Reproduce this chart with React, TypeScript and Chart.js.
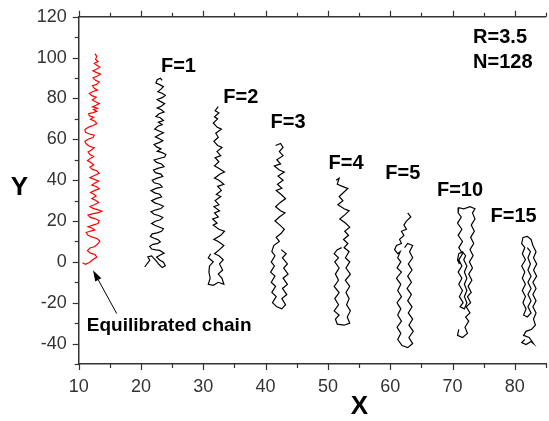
import React, { useEffect, useRef } from "react";
import { Chart, registerables } from "chart.js";

Chart.register(...registerables);

type Pt = [number, number];

// ---- data ----
const xTickValues = [10, 20, 30, 40, 50, 60, 70, 80];
const yTickValues = [-40, -20, 0, 20, 40, 60, 80, 100, 120];

const equilibratedChain: Pt[] = [
  [10.6, -0.4], [11.1, -1.2], [11.7, -0.3], [12.3, 1.2], [12.9, 2.4], [12.6, 3.6], [11.9, 4.3], [11.4, 5.5], [11.8, 6.8], [12.5, 7.4],
  [13.0, 8.6], [13.4, 10.2], [13.0, 11.3], [12.2, 12.1], [11.5, 13.0], [11.2, 14.4], [11.9, 15.1], [12.6, 15.6], [12.1, 16.6], [11.5, 17.2],
  [12.3, 18.0], [13.1, 18.8], [13.3, 20.1], [12.6, 21.2], [11.9, 21.8], [11.5, 22.9], [12.3, 23.6], [13.2, 24.1], [13.7, 24.9], [13.0, 25.6],
  [12.3, 26.2], [11.8, 27.1], [12.5, 28.0], [13.2, 29.1], [12.7, 30.2], [12.1, 31.0], [12.8, 32.3], [12.3, 33.4], [11.9, 34.0], [12.6, 35.0],
  [13.3, 35.8], [12.8, 36.9], [12.1, 37.6], [12.7, 38.7], [13.2, 39.6], [12.4, 40.5], [11.8, 41.2], [12.5, 42.3], [13.3, 43.4], [12.9, 44.6],
  [12.2, 45.3], [11.8, 46.4], [12.4, 47.5], [12.0, 48.5], [11.4, 49.6], [11.9, 50.8], [12.4, 51.6], [11.8, 52.6], [11.5, 53.8], [12.1, 54.9],
  [12.5, 55.9], [11.7, 56.6], [11.2, 57.8], [11.0, 59.1], [11.6, 60.2], [12.3, 60.9], [12.5, 62.0], [11.7, 62.6], [11.1, 63.4], [11.0, 64.8],
  [11.6, 66.0], [12.3, 66.8], [12.9, 67.7], [12.6, 68.9], [11.9, 69.8], [12.4, 70.8], [11.7, 71.5], [11.6, 72.6], [12.3, 73.1], [12.9, 73.7],
  [12.4, 74.6], [13.0, 75.2], [12.2, 75.9], [12.8, 76.7], [13.3, 77.5], [12.7, 78.4], [12.2, 79.3], [12.8, 80.6], [12.1, 81.4], [11.7, 82.5],
  [12.3, 83.4], [13.0, 84.1], [12.5, 85.0], [12.2, 86.2], [12.9, 87.0], [13.3, 88.1], [12.7, 88.9], [12.3, 90.1], [13.0, 91.0], [13.5, 91.9],
  [12.8, 92.8], [12.3, 93.6], [12.9, 94.4], [13.4, 95.4], [12.9, 96.3], [12.5, 97.2], [13.1, 98.1], [12.7, 99.2], [12.9, 100.6], [12.6, 102.0],
];

const chainF1: Pt[] = [
  [20.6, -2.5], [21.0, -0.8], [21.4, 0.8], [21.1, 2.4], [21.7, 2.9], [22.1, 1.6], [22.5, 0.2], [22.9, -1.3], [23.4, -2.8], [23.9, -1.9],
  [23.6, -0.2], [23.0, 0.9], [22.5, 2.3], [23.1, 3.4], [23.7, 4.3], [23.0, 5.6], [22.4, 5.9], [21.7, 6.3], [21.4, 7.6], [21.9, 8.6],
  [22.6, 8.9], [23.1, 9.8], [22.7, 10.9], [22.1, 11.6], [21.5, 12.4], [21.8, 13.7], [22.6, 14.2], [23.3, 15.0], [23.6, 16.2], [22.9, 17.1],
  [22.2, 17.9], [21.7, 18.8], [22.3, 19.9], [23.1, 20.6], [23.5, 21.8], [22.8, 22.7], [22.1, 23.3], [21.6, 24.6], [22.4, 25.5], [23.2, 26.1],
  [23.6, 27.3], [22.9, 28.2], [22.2, 28.9], [21.7, 30.0], [22.5, 31.1], [23.3, 31.8], [23.0, 33.1], [22.2, 33.8], [21.6, 34.9], [22.4, 36.0],
  [23.4, 36.7], [23.0, 38.0], [22.1, 38.7], [21.8, 40.0], [22.6, 41.0], [23.5, 41.8], [23.2, 43.0], [22.3, 43.7], [22.0, 45.0], [22.8, 45.9],
  [23.7, 46.6], [23.3, 47.9], [22.5, 48.7], [22.1, 49.9], [22.9, 50.6], [23.8, 51.3], [24.0, 52.6], [23.3, 53.6], [22.6, 54.2], [23.2, 55.3],
  [22.5, 56.3], [22.1, 57.5], [22.9, 58.4], [23.5, 59.3], [22.8, 60.5], [22.3, 61.2], [23.0, 62.4], [23.6, 63.2], [22.9, 64.1], [22.2, 65.0],
  [22.7, 66.4], [23.4, 67.2], [22.8, 68.4], [23.6, 69.2], [23.1, 70.6], [22.4, 71.2], [22.9, 72.5], [23.7, 73.4], [23.2, 74.6], [22.6, 75.4],
  [23.3, 76.3], [23.8, 77.5], [23.1, 78.6], [22.6, 79.5], [23.4, 80.4], [23.9, 81.6], [23.3, 82.7], [22.7, 83.3], [23.2, 84.6], [23.6, 85.8],
  [23.0, 86.8], [22.4, 87.6], [22.6, 89.2], [23.1, 89.9], [23.4, 88.9],
];

const chainF2: Pt[] = [
  [31.2, 4], [30.8, 2], [31.6, 0], [31.0, -2], [30.9, -5], [31.1, -8], [30.8, -11], [31.6, -11.5], [32.4, -10], [33.3, -11],
  [33.0, -8], [32.4, -6], [33.1, -4], [32.6, -1], [33.2, 1], [32.5, 3], [31.8, 4], [32.6, 6], [33.3, 8], [32.4, 10],
  [31.7, 11], [32.8, 13], [33.4, 15], [32.5, 16], [31.6, 18], [32.2, 19], [31.5, 21], [32.4, 22], [31.8, 24], [32.6, 25],
  [31.7, 27], [32.5, 28], [31.9, 30], [32.8, 32], [32.1, 33], [32.9, 35], [32.3, 37], [33.3, 38], [32.5, 40], [31.8, 41],
  [32.7, 43], [33.4, 44], [32.4, 46], [31.8, 47], [32.5, 49], [31.9, 51], [32.8, 52], [32.2, 54], [33.0, 56], [32.3, 57],
  [31.7, 59], [32.4, 61], [32.0, 63], [32.9, 65], [32.2, 66], [31.6, 68], [32.3, 70], [31.8, 71], [32.5, 73], [31.9, 74],
  [32.4, 76],
];

const chainF3: Pt[] = [
  [41.6, 57], [42.4, 58], [42.8, 56], [42.2, 54], [42.8, 52], [41.8, 50], [42.4, 48], [41.4, 47], [42.2, 45], [43.0, 44],
  [42.0, 42], [42.8, 40], [41.9, 38], [42.6, 36], [41.7, 35], [42.5, 33], [43.2, 31], [42.3, 29], [41.6, 27], [42.4, 25],
  [43.1, 24], [42.2, 22], [41.5, 20], [42.3, 18], [43.0, 16], [42.5, 14], [41.7, 12], [42.2, 10], [41.3, 8], [41.0, 5],
  [41.5, 3], [40.9, 0], [41.4, -2], [40.8, -5], [41.5, -7], [40.9, -10], [41.6, -12], [41.0, -15], [41.7, -17], [41.1, -20],
  [41.8, -22], [42.6, -23], [43.2, -21], [42.6, -18], [43.4, -16], [42.7, -13], [43.5, -11], [42.8, -8], [43.6, -6], [42.9, -3],
  [43.5, -1], [42.7, 2], [43.3, 4], [42.5, 6],
];

const chainF4: Pt[] = [
  [51.3, 40], [51.8, 41], [51.5, 38], [52.3, 37], [53.2, 36], [52.5, 34], [51.8, 32], [52.4, 30], [51.6, 28], [52.6, 26],
  [53.4, 25], [52.7, 23], [51.9, 21], [52.8, 19], [53.5, 17], [52.7, 15], [53.3, 13], [52.5, 11], [53.2, 9], [52.6, 7],
  [53.4, 5], [52.8, 2], [53.5, 0], [52.9, -3], [53.6, -6], [52.8, -9], [53.5, -12], [52.9, -15], [53.4, -18], [53.0, -21],
  [53.6, -24], [53.1, -27], [53.5, -30], [52.6, -31], [51.5, -30.5], [51.2, -28], [51.8, -26], [51.0, -24], [51.7, -21], [51.1, -18],
  [51.8, -15], [51.0, -12], [51.7, -9], [51.2, -6], [51.8, -3], [51.1, 0], [51.7, 2], [51.0, 4], [51.5, 6], [52.2, 7],
];

const chainF5: Pt[] = [
  [62.8, 24], [63.3, 22], [62.6, 20], [62.2, 18], [62.6, 16], [61.8, 15], [62.2, 13], [61.5, 11], [61.8, 9], [61.0, 8],
  [60.7, 6], [61.2, 4], [61.6, 5], [61.2, 2], [61.7, 0], [61.1, -3], [61.8, -5], [61.0, -8], [61.7, -11], [61.2, -14],
  [61.8, -17], [61.1, -20], [61.7, -23], [61.2, -26], [61.8, -29], [61.1, -32], [61.7, -35], [61.2, -38], [61.9, -41], [62.8, -42],
  [63.6, -40], [63.0, -37], [63.7, -34], [63.0, -31], [63.6, -28], [62.9, -25], [63.5, -22], [62.8, -19], [63.4, -16], [62.7, -13],
  [63.4, -10], [62.8, -7], [63.5, -4], [62.9, -1], [63.6, 2], [63.1, 5], [63.6, 8], [62.8, 9], [62.3, 7],
];

const chainF10: Pt[] = [
  [71.0, -33], [70.8, -36], [71.6, -37], [72.4, -35], [72.0, -32], [72.6, -29], [72.1, -27], [72.8, -25], [72.2, -22], [72.9, -20],
  [72.4, -17], [73.0, -15], [72.5, -12], [73.1, -9], [72.6, -6], [73.2, -3], [72.7, 0], [73.3, 3], [72.8, 6], [73.4, 9],
  [72.9, 12], [73.5, 15], [73.0, 18], [73.6, 21], [73.2, 24], [73.6, 26], [72.8, 27], [71.8, 26], [71.0, 26.5], [70.9, 24],
  [71.4, 22], [70.8, 19], [71.5, 16], [70.9, 13], [71.6, 10], [71.0, 7], [71.6, 4], [71.0, 1], [71.5, -2], [70.9, -5],
  [71.5, -8], [71.0, -11], [71.6, -14], [71.1, -17], [71.7, -20], [71.2, -22], [71.9, -23], [72.3, -20], [71.9, -17], [72.3, -14],
  [71.9, -11], [72.3, -8], [71.9, -5], [72.3, -2], [71.8, 1], [72.1, 3], [71.6, 5], [71.0, 4], [70.8, 1], [71.1, -1],
];

const chainF15: Pt[] = [
  [81.6, -38], [81.1, -39.5], [81.8, -40.5], [82.6, -39], [83.0, -40], [82.3, -37], [81.4, -36], [81.8, -34], [82.7, -33], [83.3, -31],
  [83.0, -28], [83.4, -25], [82.9, -22], [83.4, -19], [82.9, -16], [83.4, -13], [82.9, -10], [83.5, -7], [83.0, -4], [83.5, -1],
  [83.0, 2], [83.4, 5], [82.9, 8], [82.6, 11], [82.0, 12.5], [81.3, 12], [81.1, 9], [81.6, 7], [81.2, 4], [81.7, 1],
  [81.1, -2], [81.6, -5], [81.2, -8], [81.7, -11], [81.2, -14], [81.7, -17], [81.3, -20], [81.8, -23], [81.4, -26], [82.0, -27],
  [82.6, -25], [82.1, -22], [82.6, -19], [82.1, -16], [82.6, -13], [82.1, -10], [82.6, -7], [82.1, -4], [82.5, -1], [82.1, 2],
  [82.5, 5], [82.0, 7],
];

const chainLabels = ["F=1", "F=2", "F=3", "F=4", "F=5", "F=10", "F=15"];
const chainLabelX = [23.2, 33.2, 40.8, 50.1, 59.2, 67.5, 76.1];
const chainLabelY = [96.4, 81.1, 68.7, 48.9, 44.0, 35.3, 22.7];

const infoLabels = ["R=3.5", "N=128"];
const infoLabelX = [73.3, 73.3];
const infoLabelY = [110.4, 98.2];

const arrowText = "Equilibrated chain";
const arrowTextPos: Pt = [11.3, -30.6];
const arrowTail: Pt = [16.1, -25.3];
const arrowHead: Pt = [12.3, -4.1];

const FONT = "'Liberation Sans', Arial, sans-serif";
const AXIS = "#333333";

const toXY = (c: Pt[]) => c.map(([x, y]) => ({ x, y }));

const overlayPlugin = {
  id: "overlay",
  afterDraw(chart: any) {
    const { ctx, chartArea, scales } = chart;
    const xs = scales.x;
    const ys = scales.y;
    ctx.save();
    // top frame line
    ctx.strokeStyle = AXIS;
    ctx.lineWidth = 1.5;
    ctx.beginPath();
    ctx.moveTo(chartArea.left, chartArea.top);
    ctx.lineTo(chartArea.right, chartArea.top);
    ctx.stroke();
    // tick marks
    ctx.lineWidth = 1.2;
    for (const t of xs.ticks) {
      const px = Math.round(xs.getPixelForValue(t.value)) + 0.5;
      const len = t.value % 10 === 0 ? 6 : 4;
      ctx.beginPath();
      ctx.moveTo(px, chartArea.bottom);
      ctx.lineTo(px, chartArea.bottom + len);
      ctx.moveTo(px, chartArea.top);
      ctx.lineTo(px, chartArea.top - len);
      ctx.stroke();
    }
    for (const t of ys.ticks) {
      const py = Math.round(ys.getPixelForValue(t.value)) + 0.5;
      const len = t.value % 20 === 0 ? 6 : 4;
      ctx.beginPath();
      ctx.moveTo(chartArea.left, py);
      ctx.lineTo(chartArea.left - len, py);
      ctx.stroke();
    }
    // chain labels
    ctx.fillStyle = "#000";
    ctx.textAlign = "left";
    ctx.textBaseline = "middle";
    ctx.font = `bold 20px ${FONT}`;
    chainLabels.forEach((s, i) => {
      ctx.fillText(s, xs.getPixelForValue(chainLabelX[i]), ys.getPixelForValue(chainLabelY[i]) + 1);
    });
    infoLabels.forEach((s, i) => {
      ctx.fillText(s, xs.getPixelForValue(infoLabelX[i]), ys.getPixelForValue(infoLabelY[i]) + 1);
    });
    ctx.font = `bold 19px ${FONT}`;
    ctx.fillText(arrowText, xs.getPixelForValue(arrowTextPos[0]), ys.getPixelForValue(arrowTextPos[1]) + 1);
    // arrow
    const x1 = xs.getPixelForValue(arrowTail[0]);
    const y1 = ys.getPixelForValue(arrowTail[1]);
    const x2 = xs.getPixelForValue(arrowHead[0]);
    const y2 = ys.getPixelForValue(arrowHead[1]);
    const ang = Math.atan2(y2 - y1, x2 - x1);
    const hl = 11;
    const hw = 3.5;
    const bx = x2 - hl * Math.cos(ang);
    const by = y2 - hl * Math.sin(ang);
    ctx.strokeStyle = "#000";
    ctx.lineWidth = 1;
    ctx.beginPath();
    ctx.moveTo(x1, y1);
    ctx.lineTo(bx, by);
    ctx.stroke();
    ctx.beginPath();
    ctx.moveTo(x2, y2);
    ctx.lineTo(bx + hw * Math.sin(ang), by - hw * Math.cos(ang));
    ctx.lineTo(bx - hw * Math.sin(ang), by + hw * Math.cos(ang));
    ctx.closePath();
    ctx.fill();
    // axis titles
    ctx.font = `bold 26px ${FONT}`;
    ctx.textAlign = "center";
    ctx.fillText("Y", 19.5, 188);
    ctx.fillText("X", 359.5, 407);
    ctx.restore();
  },
};

export default function App() {
  const ref = useRef<HTMLCanvasElement | null>(null);
  useEffect(() => {
    if (!ref.current) return;
    const line = (data: Pt[], color: string) => ({
      data: toXY(data),
      showLine: true,
      borderColor: color,
      backgroundColor: color,
      borderWidth: 1.2,
      pointRadius: 0,
      tension: 0,
    });
    const chart = new Chart(ref.current, {
      type: "scatter",
      data: {
        datasets: [
          line(equilibratedChain, "#ff0000"),
          line(chainF1, "#000"),
          line(chainF2, "#000"),
          line(chainF3, "#000"),
          line(chainF4, "#000"),
          line(chainF5, "#000"),
          line(chainF10, "#000"),
          line(chainF15, "#000"),
        ],
      },
      options: {
        animation: false,
        responsive: true,
        maintainAspectRatio: false,
        layout: { padding: { top: 13, right: 0, left: 0, bottom: 0 } },
        plugins: { legend: { display: false }, tooltip: { enabled: false } },
        scales: {
          x: {
            type: "linear",
            min: 10,
            max: 85,
            afterFit: (s: any) => {
              s.height = 57;
            },
            grid: { display: true, drawOnChartArea: false, drawTicks: true, tickLength: 6, tickColor: "rgba(0,0,0,0)" },
            border: { display: true, color: AXIS, width: 1.5 },
            ticks: {
              stepSize: 5,
              autoSkip: false,
              maxRotation: 0,
              padding: 6,
              color: AXIS,
              font: { family: FONT, size: 18 },
              callback: (v: any) => (xTickValues.includes(Number(v)) ? String(v) : ""),
            },
          },
          y: {
            type: "linear",
            min: -50,
            max: 120,
            afterFit: (s: any) => {
              s.width = 78.7;
            },
            grid: { display: true, drawOnChartArea: false, drawTicks: true, tickLength: 6, tickColor: "rgba(0,0,0,0)" },
            border: { display: true, color: AXIS, width: 1.5 },
            ticks: {
              stepSize: 10,
              autoSkip: false,
              padding: 6,
              color: AXIS,
              font: { family: FONT, size: 18 },
              callback: (v: any) => (yTickValues.includes(Number(v)) ? String(v) : ""),
            },
          },
        },
      },
      plugins: [overlayPlugin],
    });
    return () => chart.destroy();
  }, []);
  return (
    <div style={{ position: "fixed", left: 0, top: 0, width: 549, height: 421, overflow: "hidden", background: "#fff" }}>
      <div style={{ width: 552, height: 421, position: "relative" }}>
        <canvas ref={ref} />
      </div>
    </div>
  );
}
